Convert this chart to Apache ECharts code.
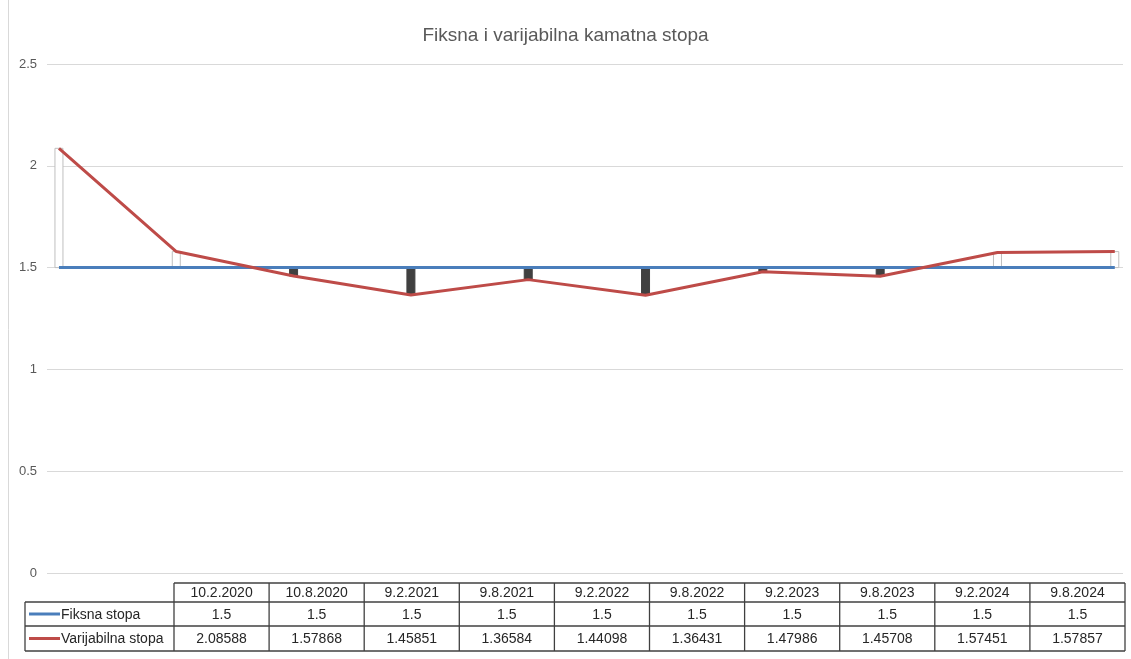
<!DOCTYPE html>
<html>
<head>
<meta charset="utf-8">
<script src="https://cdn.jsdelivr.net/npm/echarts@6/dist/echarts.min.js"></script>
<style>html,body{margin:0;padding:0;background:#fff;}#c{width:1131px;height:659px;}</style>
</head>
<body>
<div id="c"></div>
<script>
const chartTitle = 'Fiksna i varijabilna kamatna stopa';
const categories = ['10.2.2020','10.8.2020','9.2.2021','9.8.2021','9.2.2022','9.8.2022','9.2.2023','9.8.2023','9.2.2024','9.8.2024'];
const fixedName = 'Fiksna stopa';
const variableName = 'Varijabilna stopa';
const fixedRate = [1.5,1.5,1.5,1.5,1.5,1.5,1.5,1.5,1.5,1.5];
const variableRate = [2.08588,1.57868,1.45851,1.36584,1.44098,1.36431,1.47986,1.45708,1.57451,1.57857];
const fixedLabels = ['1.5','1.5','1.5','1.5','1.5','1.5','1.5','1.5','1.5','1.5'];
const variableLabels = ['2.08588','1.57868','1.45851','1.36584','1.44098','1.36431','1.47986','1.45708','1.57451','1.57857'];

const BLUE = '#4a7ebb', RED = '#be4b48';
const FONT = 'Liberation Sans';

// table layout
const tLeft = 25, tLegRight = 174, tRight = 1125;
const rowY = [583, 602, 626, 651];
const colW = (tRight - tLegRight) / categories.length;
const border = '#404040';
const g = [];
function line(x1,y1,x2,y2,color,w){ g.push({type:'line',shape:{x1,y1,x2,y2},style:{stroke:color,lineWidth:w||1.3},silent:true}); }
// chart border left
line(8.5,0,8.5,659,'#d9d9d9',1);
// horizontal lines
line(tLegRight,rowY[0],tRight,rowY[0],border);
line(tLeft,rowY[1],tRight,rowY[1],border);
line(tLeft,rowY[2],tRight,rowY[2],border);
line(tLeft,rowY[3],tRight,rowY[3],border);
// verticals
line(tLeft,rowY[1],tLeft,rowY[3],border);
for(let i=0;i<=categories.length;i++){
  const x = tLegRight + i*colW;
  line(x,rowY[0],x,rowY[3],border);
}
function txt(x,y,s,align){ g.push({type:'text',x,y,style:{text:s,fill:'#262626',font:'14px "'+FONT+'"',align:align||'center',verticalAlign:'middle'},silent:true}); }
categories.forEach((c,i)=>{
  const cx = tLegRight + (i+0.5)*colW;
  txt(cx,(rowY[0]+rowY[1])/2+1,c);
  txt(cx,(rowY[1]+rowY[2])/2+1,fixedLabels[i]);
  txt(cx,(rowY[2]+rowY[3])/2+1,variableLabels[i]);
});
// legend keys
line(29,(rowY[1]+rowY[2])/2,60,(rowY[1]+rowY[2])/2,BLUE,3);
line(29,(rowY[2]+rowY[3])/2,60,(rowY[2]+rowY[3])/2,RED,3);
txt(61,(rowY[1]+rowY[2])/2+1,fixedName,'left');
txt(61,(rowY[2]+rowY[3])/2+1,variableName,'left');

const chart = echarts.init(document.getElementById('c'));
chart.setOption({
  animation:false,
  backgroundColor:'#fff',
  title:{text:chartTitle,left:'center',top:21,textStyle:{fontFamily:FONT,fontSize:19,fontWeight:'normal',color:'#595959'}},
  grid:{left:47,right:8,top:64,bottom:86},
  xAxis:{type:'value',min:-0.102,max:9.07,show:false},
  yAxis:{type:'value',min:0,max:2.5,interval:0.5,
    axisLine:{show:false},axisTick:{show:false},
    axisLabel:{color:'#595959',fontFamily:FONT,fontSize:13,margin:10},
    splitLine:{lineStyle:{color:'#d9d9d9',width:1}}},
  series:[
    {type:'custom',name:'updown',z:1,
      data:categories.map((c,i)=>[i,fixedRate[i],variableRate[i]]),
      renderItem:function(params,api){
        const a = api.coord([api.value(0),api.value(1)]);
        const b = api.coord([api.value(0),api.value(2)]);
        const up = api.value(2) > api.value(1);
        const top = Math.min(a[1],b[1]), h = Math.abs(a[1]-b[1]);
        return {type:'rect',shape:{x:a[0]-4,y:top,width:8,height:h},
          style:{fill:up?'#ffffff':'#404040',stroke:up?'#bfbfbf':'#404040',lineWidth:1}};
      }},
    {type:'line',name:fixedName,z:3,data:categories.map((c,i)=>[i,fixedRate[i]]),
      showSymbol:false,lineStyle:{color:BLUE,width:3}},
    {type:'line',name:variableName,z:4,data:categories.map((c,i)=>[i,variableRate[i]]),
      showSymbol:false,lineStyle:{color:RED,width:3}}
  ],
  graphic:g
});
</script>
</body>
</html>
